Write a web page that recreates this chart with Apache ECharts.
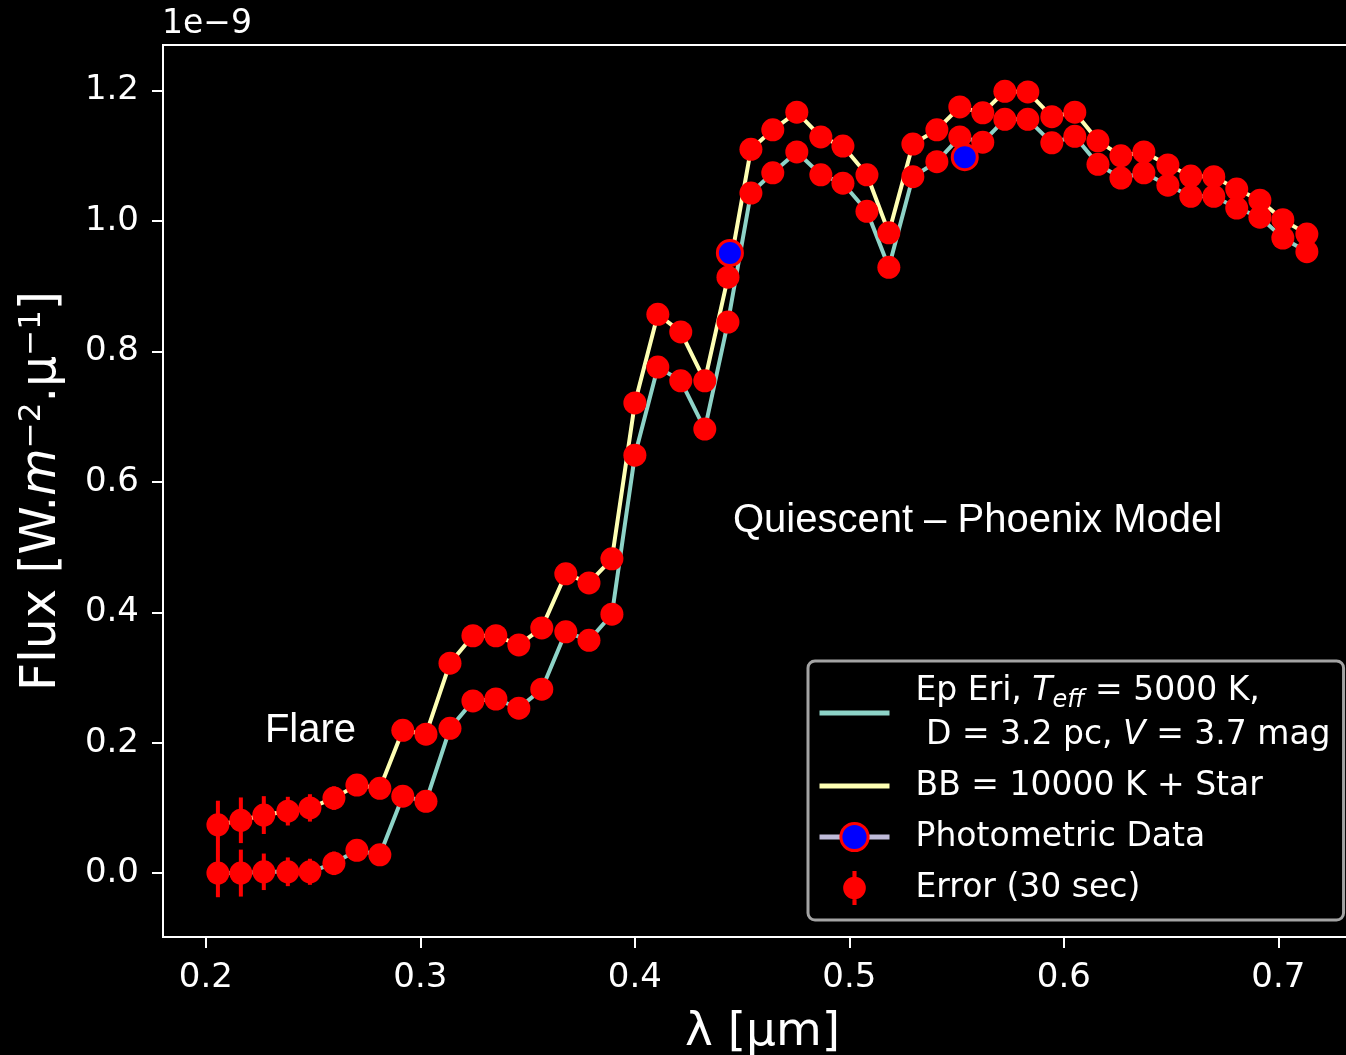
<!DOCTYPE html>
<html>
<head>
<meta charset="utf-8">
<script src="https://cdn.jsdelivr.net/npm/echarts@6/dist/echarts.min.js"></script>
<style>
html,body{margin:0;padding:0;background:#000;overflow:hidden;}
#c{width:1346px;height:1055px;}
</style>
</head>
<body>
<div id="c"></div>
<script>
// ---- data ----
const wavelength = [0.2056,0.2163,0.2270,0.2382,0.2485,0.2597,0.2704,0.2811,0.2918,0.3026,
  0.3138,0.3245,0.3352,0.3459,0.3566,0.3678,0.3786,0.3893,0.4000,0.4107,
  0.4214,0.4326,0.4434,0.4541,0.4643,0.4755,0.4867,0.4970,0.5082,0.5184,
  0.5296,0.5408,0.5515,0.5622,0.5725,0.5832,0.5944,0.6051,0.6159,0.6266,
  0.6373,0.6485,0.6592,0.6699,0.6806,0.6914,0.7021,0.7133];
const quiescentFlux = [0.000,0.000,0.002,0.002,0.002,0.015,0.035,0.028,0.118,0.110,
  0.222,0.264,0.267,0.253,0.282,0.370,0.357,0.397,0.641,0.776,
  0.755,0.681,0.845,1.043,1.074,1.106,1.071,1.058,1.015,0.929,
  1.068,1.091,1.129,1.121,1.156,1.156,1.120,1.130,1.087,1.066,
  1.074,1.055,1.038,1.038,1.020,1.006,0.974,0.953];
const flareFlux = [0.074,0.081,0.089,0.095,0.100,0.115,0.135,0.130,0.219,0.213,
  0.322,0.364,0.364,0.350,0.376,0.459,0.445,0.482,0.721,0.857,
  0.830,0.755,0.914,1.110,1.140,1.167,1.129,1.115,1.071,0.982,
  1.118,1.140,1.175,1.166,1.199,1.198,1.160,1.167,1.123,1.100,
  1.106,1.086,1.069,1.068,1.049,1.032,1.002,0.980];
const quiescentErr = [0.037,0.036,0.028,0.022,0.020,0.018,0.016,0.015,0.014,0.013,
  0.013,0.012,0.012,0.012,0.012,0.012,0.012,0.012,0.012,0.012,
  0.012,0.012,0.012,0.012,0.012,0.012,0.012,0.012,0.012,0.012,
  0.012,0.012,0.012,0.012,0.012,0.012,0.012,0.012,0.012,0.012,
  0.012,0.012,0.012,0.012,0.012,0.012,0.012,0.012];
const flareErr = [0.037,0.035,0.029,0.022,0.021,0.018,0.016,0.015,0.014,0.013,
  0.013,0.012,0.012,0.012,0.012,0.012,0.012,0.012,0.012,0.012,
  0.012,0.012,0.012,0.012,0.012,0.012,0.012,0.012,0.012,0.012,
  0.012,0.012,0.012,0.012,0.012,0.012,0.012,0.012,0.012,0.012,
  0.012,0.012,0.012,0.012,0.012,0.012,0.012,0.012];
const photoWavelength = [0.4443, 0.5538];
const photoFlux = [0.951, 1.098];
const xTicks = [0.2, 0.3, 0.4, 0.5, 0.6, 0.7];
const yTicks = [0.0, 0.2, 0.4, 0.6, 0.8, 1.0, 1.2];
const seriesNames = ['Ep Eri', 'BB', 'Photometric Data', 'Error (30 sec)'];
const legendLabels = {
  'Ep Eri': 'Ep Eri, {it|T}{sub|eff} = 5000 K,\n D = 3.2 pc, {it|V} = 3.7 mag',
  'BB': 'BB = 10000 K + Star',
  'Photometric Data': 'Photometric Data',
  'Error (30 sec)': 'Error (30 sec)'
};
const yAxisTitle = '{a|Flux [W.}{i|m}{s|\u22122}{a|.μ}{s|\u22121}{a|]}';
const xAxisTitle = 'λ [μm]';
const notes = [
  {text: 'Flare', at: [0.2275, 0.218]},
  {text: 'Quiescent \u2013 Phoenix Model', at: [0.4457, 0.540]}
];
const offsetText = '1e\u22129';

// ---- build ----
const MPL = "'DejaVu Sans', 'Noto Sans', sans-serif";
const quiescentLine = wavelength.map((w, i) => [w, quiescentFlux[i]]);
const flareLine = wavelength.map((w, i) => [w, flareFlux[i]]);
const errData = wavelength.map((w, i) => [w, quiescentFlux[i], quiescentErr[i]])
  .concat(wavelength.map((w, i) => [w, flareFlux[i], flareErr[i]]));
const photoData = photoWavelength.map((w, i) => [w, photoFlux[i]]);

const chart = echarts.init(document.getElementById('c'), null, {renderer: 'canvas'});
const option = {
  backgroundColor: '#000',
  animation: false,
  grid: {left: 163, top: 45, width: 1199, height: 892, show: true, containLabel: false,
         outerBoundsMode: 'none',
         borderColor: '#fff', borderWidth: 2, backgroundColor: 'transparent'},
  xAxis: {
    type: 'value', min: 0.18, max: 0.739,
    name: xAxisTitle, nameLocation: 'middle', nameGap: 72,
    nameTextStyle: {color: '#fff', fontSize: 47, fontFamily: MPL},
    axisLine: {show: true, onZero: false, lineStyle: {color: '#fff', width: 2}},
    axisTick: {show: true, inside: false, length: 11, lineStyle: {color: '#fff', width: 2}, customValues: xTicks},
    axisLabel: {color: '#fff', fontSize: 34, fontFamily: MPL, margin: 24, customValues: xTicks,
                formatter: v => v.toFixed(1)},
    splitLine: {show: false}
  },
  yAxis: {
    type: 'value', min: -0.098, max: 1.27,
    name: yAxisTitle, nameLocation: 'middle', nameGap: 95,
    nameTextStyle: {color: '#fff', fontSize: 49, fontFamily: MPL,
      rich: {a: {color: '#fff', fontSize: 49, fontFamily: MPL, lineHeight: 52},
             i: {color: '#fff', fontSize: 49, fontFamily: MPL, fontStyle: 'italic', lineHeight: 52},
             s: {color: '#fff', fontSize: 31, fontFamily: MPL, lineHeight: 31, verticalAlign: 'top'}}},
    axisLine: {show: true, onZero: false, lineStyle: {color: '#fff', width: 2}},
    axisTick: {show: true, inside: false, length: 11, lineStyle: {color: '#fff', width: 2}, customValues: yTicks},
    axisLabel: {color: '#fff', fontSize: 34, fontFamily: MPL, margin: 24, customValues: yTicks,
                formatter: v => v.toFixed(1)},
    splitLine: {show: false}
  },
  legend: {
    orient: 'vertical', left: 808, top: 661,
    padding: [8, 13, 10, 9], itemGap: 7, itemWidth: 70, itemHeight: 34,
    backgroundColor: 'rgba(0,0,0,0.8)', borderColor: '#a3a3a3', borderWidth: 3, borderRadius: 7,
    selectedMode: false,
    formatter: name => legendLabels[name],
    textStyle: {color: '#fff', fontSize: 33, fontFamily: MPL, lineHeight: 44, padding: [0, 0, 0, 21],
      rich: {
        it: {color: '#fff', fontSize: 33, fontFamily: MPL, fontStyle: 'italic', lineHeight: 44},
        sub: {color: '#fff', fontSize: 24, fontFamily: MPL, fontStyle: 'italic', verticalAlign: 'bottom'}
      }},
    data: [
      {name: seriesNames[0], icon: 'path://M0,0H70V5H0Z'},
      {name: seriesNames[1], icon: 'path://M0,0H70V5H0Z'},
      {name: seriesNames[2], lineStyle: {color: '#bfbbd9', width: 5, opacity: 1},
       itemStyle: {color: '#0000ff', borderColor: '#ff0000', borderWidth: 3}},
      {name: seriesNames[3], icon: 'path://M9,0H13V33H9Z M0,16.5A11,11 0 1 1 22,16.5A11,11 0 1 1 0,16.5Z'}
    ]
  },
  series: [
    {name: seriesNames[0], type: 'line', data: quiescentLine, symbol: 'none', silent: true,
     itemStyle: {color: '#8dd3c7'}, lineStyle: {color: '#8dd3c7', width: 4}, z: 2},
    {name: seriesNames[1], type: 'line', data: flareLine, symbol: 'none', silent: true,
     itemStyle: {color: '#feffb3'}, lineStyle: {color: '#feffb3', width: 4}, z: 2},
    {name: seriesNames[3], type: 'custom', data: errData, silent: true, z: 3,
     itemStyle: {color: '#ff0000'},
     encode: {x: 0, y: 1},
     renderItem: function (params, api) {
       const x = api.value(0), y = api.value(1), e = api.value(2);
       const c = api.coord([x, y]);
       const t = api.coord([x, y + e]);
       const b = api.coord([x, y - e]);
       return {type: 'group', children: [
         {type: 'line', shape: {x1: c[0], y1: t[1], x2: c[0], y2: b[1]}, style: {stroke: '#ff0000', lineWidth: 4}},
         {type: 'circle', shape: {cx: c[0], cy: c[1], r: 11.5}, style: {fill: '#ff0000'}}
       ]};
     }},
    {name: seriesNames[2], type: 'line', data: photoData, symbol: 'circle', symbolSize: 25, silent: true, z: 4,
     itemStyle: {color: '#0000ff', borderColor: '#ff0000', borderWidth: 3},
     lineStyle: {color: '#bfbbd9', width: 4, opacity: 0}}
  ]
};
chart.setOption(option);

const graphics = notes.map(n => {
  const p = chart.convertToPixel({gridIndex: 0}, n.at);
  return {type: 'text', silent: true, z: 10,
    style: {x: p[0], y: p[1], text: n.text, fill: '#fff', font: "40px 'Liberation Sans', Arial, sans-serif",
            align: 'left', verticalAlign: 'middle'}};
});
graphics.push({type: 'text', silent: true, z: 10,
  style: {x: 162, y: 24, text: offsetText, fill: '#fff', font: "33px 'DejaVu Sans', sans-serif",
          align: 'left', verticalAlign: 'middle'}});
chart.setOption({graphic: graphics});
</script>
</body>
</html>
